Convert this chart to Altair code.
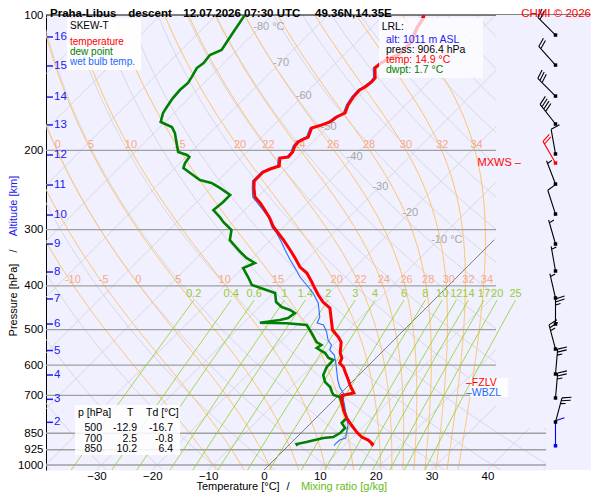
import numpy as np
import pandas as pd
import altair as alt

FONT = "Liberation Sans"
BG = "#f0f0ff"
W, H = 500, 455                      # diagram area; wind strip sits to the right
P_TOP, P_BOT = 100.0, 1025.9
T_LEFT, T_RIGHT = -39.03, 50.49
SKEW = 450 / 5.585                   # 45 deg isotherms: degC shift per pressure decade
RD, CP, LV, EPS = 287.04, 1005.7, 2.501e6, 0.622

# ===== sounding (descent) =====
temp_p = [100, 102.1, 106.3, 109.1, 114.8, 117.8, 122.7, 124.6, 127.8, 131.2, 138.0, 140.9, 144.5,
          146.8, 152.2, 158.5, 165.1, 168.5, 172.9, 175.5, 178.3, 186.7, 188.6, 191.5, 195.5, 201.6,
          206.8, 207.9, 216.6, 219.9, 223.3, 229.1, 233.8, 242.3, 253.8, 261.6, 271.3, 282.6, 295.9,
          305.1, 316.2, 332.9, 346.7, 363.1, 374.4, 392.1, 404.4, 419.1, 434.4, 447.9, 469.0, 501.2,
          519.4, 533.0, 563.9, 578.5, 593.5, 605.8, 621.5, 647.5, 664.3, 691.8, 700.8, 717.1, 754.7,
          786.3, 815.0, 844.8, 866.7, 880.2, 898.4, 906.4]
temp_t = [-52.8, -52.3, -51.8, -51.3, -50.2, -50.2, -50.3, -51.2, -51.9, -52.1, -50.3, -50.2, -50.5,
          -50.9, -50.8, -50.3, -49.4, -50.2, -50.5, -51.4, -52.7, -51.7, -52.2, -52.6, -52.5, -51.8,
          -51.7, -53.0, -51.7, -52.8, -53.5, -53.5, -53.5, -52.3, -50.5, -48.5, -46.4, -44.1, -41.8,
          -39.9, -37.7, -34.7, -32.4, -29.9, -27.6, -25.1, -23.5, -21.6, -19.5, -17.2, -15.4, -12.8,
          -10.5, -9.1, -7.3, -6.1, -5.6, -4.2, -3.0, -1.0, 0.2, 2.3, 0.6, 1.4, 3.5,
          5.5, 7.6, 9.8, 11.6, 13.3, 14.8, 14.9]

dew_p = [100, 103.6, 109.1, 114.8, 119.6, 122.7, 127.8, 131.2, 137.3, 141.6, 146.8, 153.0, 160.1,
         165.1, 172.9, 177.4, 182.9, 192.5, 201.6, 204.7, 206.8, 213.3, 218.8, 224.4, 232.6, 236.2,
         242.3, 251.2, 260.3, 271.3, 281.2, 288.4, 300.4, 316.2, 329.5, 338.0, 346.7, 355.7, 365.0,
         382.2, 398.1, 408.5, 414.8, 434.4, 445.6, 452.4, 459.4, 471.3, 476.2, 482.9, 484.3, 488.6,
         509.0, 533.0, 541.2, 549.5, 563.9, 578.5, 584.4, 605.8, 631.0, 654.2, 671.2, 688.3, 699.0,
         706.2, 766.4, 786.3, 806.7, 827.6, 849.2, 866.7, 871.0, 889.2, 898.4, 906.4]
dew_t = [-84.9, -84.5, -83.9, -83.3, -82.8, -84.0, -83.7, -84.0, -83.3, -82.9, -83.1, -82.9, -82.4,
         -82.0, -80.8, -77.9, -76.3, -74.2, -72.3, -70.2, -69.4, -69.1, -68.5, -66.4, -63.4, -60.8,
         -58.4, -55.3, -55.3, -55.6, -53.2, -51.7, -48.8, -47.3, -44.6, -42.9, -41.1, -38.7, -39.9,
         -37.4, -35.3, -31.8, -29.7, -27.9, -26.0, -24.0, -22.6, -22.9, -24.0, -27.1, -22.2, -18.3,
         -16.0, -13.5, -12.1, -12.4, -10.0, -8.5, -7.3, -7.2, -6.4, -4.8, -3.0, -1.8, -1.0,
         0.5, 4.3, 5.5, 5.5, 7.0, 7.0, 6.5, 4.9, 2.6, 1.2, 1.7]

wetb_p = [100, 102.1, 106.3, 109.1, 114.8, 117.8, 122.7, 124.6, 127.8, 131.2, 138.0, 140.9, 144.5,
          146.8, 152.2, 158.5, 165.1, 168.5, 172.9, 175.5, 178.3, 186.7, 188.6, 191.5, 195.5, 201.6,
          206.8, 207.9, 216.6, 219.9, 223.3, 229.1, 233.8, 242.3, 253.8, 261.6,
          271.3, 281.2, 295.9, 305.1, 319.5, 332.9, 350.3, 365.0, 382.2, 398.1, 414.8, 436.5, 469.0,
          483.6, 488.6, 506.4, 527.6, 541.2, 555.3, 569.6, 590.4, 615.1, 647.5, 671.2, 691.8, 717.1,
          743.2, 782.3, 815.0, 844.8, 871.0, 880.2, 898.4, 906.4]
wetb_t = [-53.1, -52.6, -52.1, -51.6, -50.5, -50.5, -50.6, -51.5, -52.2, -52.4, -50.6, -50.5, -50.8,
          -51.2, -51.1, -50.6, -49.7, -50.5, -50.8, -51.7, -53.0, -52.0, -52.5, -52.9, -52.8, -52.1,
          -52.0, -53.3, -52.0, -53.1, -53.8, -53.8, -53.8, -52.6, -50.9, -49.0,
          -46.7, -44.5, -42.1, -40.2, -37.7, -35.6, -32.9, -30.6, -28.1, -25.5, -22.9, -20.2, -17.4,
          -16.8, -15.3, -13.5, -11.8, -10.3, -9.7, -8.0, -6.5, -4.9, -2.9, -1.3, 0.4, 1.7,
          3.2, 5.2, 7.0, 8.0, 8.9, 8.2, 8.1, 8.2]

# ===== axes / diagram lines =====
p_levels = [100, 200, 300, 400, 500, 600, 700, 850, 925, 1000]
temp_ticks = [-30, -20, -10, 0, 10, 20, 30, 40]
km_vals = [2, 3, 4, 5, 6, 7, 8, 9, 10, 11, 12, 13, 14, 15, 16]
km_p = [803.8, 714.5, 631.0, 556.7, 486.1, 427.6, 372.5, 322.8, 278.3, 238.7, 204.7, 175.5, 152.2, 129.8, 111.9]
isotherms = list(range(-120, 60, 10))
dry_thetas = list(range(-40, 210, 10))
theta_w = [-10, -5, 0, 5, 10, 15, 20, 22, 24, 26, 28, 30, 32, 34]
mix_labels = ["0.2", "0.4", "0.6", "1", "1.4", "2", "3", "4", "6", "8", "10", "12", "14", "17", "20", "25"]
iso_lab_t = [-80, -70, -60, -50, -40, -30, -20, -10]
iso_lab_p = [106.3, 127.8, 151.4, 177.4, 206.8, 241.1, 275.4, 316.2]
iso_lab_txt = ["-80 °C", "-70", "-60", "-50", "-40", "-30", "-20", "-10 °C"]

# ===== wind =====
barb_p = [110.8, 129.2, 151.4, 174.7, 203.6, 213.3, 237.5, 276.9, 322.8, 370.6, 425.5, 486.1,
          552.5, 627.8, 709.7, 802.6, 906.4]
barb_dir = [315, 318, 315, 322, 350, 330, 339, 342, 344, 350, 347, 0, 345, 5, 5, 15, 0]
barb_kt = [20, 20, 30, 40, 10, 20, 5, 10, 5, 5, 5, 25, 25, 25, 25, 25, 10]
barb_col = ["black"] * 5 + ["red"] + ["black"] * 10 + ["blue"]

# ===== table / info =====
tbl_p = [500, 700, 850]
tbl_t = [-12.9, 2.5, 10.2]
tbl_td = [-16.7, -0.8, 6.4]
mxws_p, fzlv_p, wbzl_p = 213.3, 657.5, 690.7


def skew(t, p):
    return np.asarray(t, float) + SKEW * np.log10(P_BOT / np.asarray(p, float))


XS = alt.Scale(domain=[T_LEFT, T_RIGHT], nice=False, zero=False)
YS = alt.Scale(type="log", domain=[P_TOP, P_BOT], reverse=True, nice=False)
X_AX = alt.Axis(values=temp_ticks, format="d", title=None, grid=False, ticks=False, domain=False,
                labelPadding=0, labelFont=FONT, labelFontSize=11.5, labelColor="black", labelOverlap=False)
Y_AX = alt.Axis(values=p_levels, format="d", title=None, grid=False, ticks=False, domain=True,
                domainColor="black", domainWidth=1, labelPadding=3, labelFont=FONT, labelFontSize=11.5,
                labelColor="black", labelOverlap=False)


def enc_x():
    return alt.X("xs:Q", scale=XS, axis=X_AX)


def enc_y():
    return alt.Y("p:Q", scale=YS, axis=Y_AX)


def sat_vp(tc):
    return 6.112 * np.exp(17.67 * tc / (tc + 243.5))


def pseudo_adiabat(tw):
    def slope(p, t):
        tc = t - 273.15
        e = sat_vp(tc)
        rs = EPS * e / (p - e)
        return (RD * t + LV * rs) / (p * (CP + LV * LV * rs * EPS / (RD * t * t)))

    def run(p_end, n):
        p, t = 1000.0, tw + 273.15
        h = (p_end - 1000.0) / n
        ps, ts = [p], [t]
        for _ in range(n):
            k1 = slope(p, t)
            k2 = slope(p + h / 2, t + h * k1 / 2)
            k3 = slope(p + h / 2, t + h * k2 / 2)
            k4 = slope(p + h, t + h * k3)
            t += h * (k1 + 2 * k2 + 2 * k3 + k4) / 6
            p += h
            ps.append(p)
            ts.append(t)
        return ps, ts

    pd_, td_ = run(P_BOT, 3)
    pu, tu = run(P_TOP, 180)
    return np.array(pd_[::-1] + pu[1:]), np.array(td_[::-1] + tu[1:]) - 273.15


def mix_td(w_gkg, p):
    w = w_gkg / 1000.0
    lg = np.log(w * p / (EPS + w) / 6.112)
    return 243.5 * lg / (17.67 - lg)


def family(prefix, keys, fn):
    parts = []
    for k in keys:
        ps, ts = fn(k)
        parts.append(pd.DataFrame({"id": f"{prefix}{k}", "p": ps, "t": ts, "i": np.arange(len(ps))}))
    df = pd.concat(parts, ignore_index=True)
    df["xs"] = skew(df.t, df.p)
    return df


p_full = np.geomspace(P_BOT, P_TOP, 40)
df_iso = family("i", isotherms, lambda t: (p_full, np.full(len(p_full), float(t))))
df_dry = family("d", dry_thetas, lambda th: (p_full, (th + 273.15) * (p_full / 1000) ** (RD / CP) - 273.15))
moist = {tw: pseudo_adiabat(tw) for tw in theta_w}
df_moist = family("m", theta_w, lambda tw: moist[tw])
p_mix = np.geomspace(P_BOT, 430, 12)
df_mix = family("w", mix_labels, lambda s: (p_mix, mix_td(float(s), p_mix)))
df_zero = family("z", [0], lambda t: (np.array([P_BOT, 316.2]), np.array([0.0, 0.0])))


def lines(df, color, width):
    return alt.Chart(df).mark_line(clip=True, color=color, strokeWidth=width).encode(
        x=enc_x(), y=enc_y(), detail="id:N", order="i:Q")


def profile(ps, ts, color, width):
    df = pd.DataFrame({"p": ps, "t": ts, "i": np.arange(len(ps))})
    df["xs"] = skew(df.t, df.p)
    return alt.Chart(df).mark_line(clip=True, color=color, strokeWidth=width).encode(
        x=enc_x(), y=enc_y(), order="i:Q")


def scaled_text(df, color, size=11, align="center", dx=0):
    df = df.copy()
    if "xs" not in df:
        df["xs"] = skew(df.t, df.p)
    return alt.Chart(df).mark_text(font=FONT, fontSize=size, color=color, align=align,
                                   baseline="middle", dx=dx).encode(x=enc_x(), y=enc_y(), text="lab:N")


one = pd.DataFrame({"k": [0]})


def box(x1, y1, x2, y2, color="white", opacity=1.0):
    return alt.Chart(one).mark_rect(color=color, opacity=opacity).encode(
        x=alt.value(x1), x2=alt.value(x2), y=alt.value(y1), y2=alt.value(y2))


def notes(rows, size=10.5, weight="normal", align="left", baseline="middle", angle=0):
    df = pd.DataFrame(rows, columns=["x", "y", "text", "color"])
    return alt.Chart(df).mark_text(font=FONT, fontSize=size, fontWeight=weight, align=align,
                                   baseline=baseline, angle=angle).encode(
        x=alt.X("x:Q", scale=None, axis=None), y=alt.Y("y:Q", scale=None, axis=None),
        text="text:N", color=alt.Color("color:N", scale=None))


# ===== labels on the diagram lines =====
def on_line(tw, p):
    ps, ts = moist[tw]
    return float(np.interp(np.log(p), np.log(ps[::-1]), ts[::-1]))


moist_lab = []
for tw in theta_w:
    moist_lab.append({"p": 388.6, "t": on_line(tw, 388.6), "lab": str(tw)})
    t2 = on_line(tw, 194.5)
    if skew(t2, 194.5) > T_LEFT + 1:
        moist_lab.append({"p": 194.5, "t": t2, "lab": str(tw)})
df_moist_lab = pd.DataFrame(moist_lab)
mix_top_t = [mix_td(float(s), 430.0) for s in mix_labels]
df_mix_lab = pd.DataFrame({"lab": mix_labels, "p": 416.9, "xs": skew(mix_top_t, 430.0)})
df_iso_lab = pd.DataFrame({"lab": iso_lab_txt, "p": iso_lab_p, "t": iso_lab_t})

# ===== pressure lines, km scale =====
upper = pd.DataFrame({"p": [p for p in p_levels if 100 < p < 800]})
lower = pd.DataFrame({"p": [p for p in p_levels if p >= 800]})
plines = [
    alt.Chart(upper).mark_rule(color="#a0a0a0", strokeWidth=1.3).encode(
        x=alt.value(0), x2=alt.value(450), y=enc_y()),
    alt.Chart(lower).mark_rule(color="#a0a0a0", strokeWidth=1.3).encode(
        x=alt.value(0), x2=alt.value(500), y=enc_y()),
    alt.Chart(one).mark_rule(color="black", strokeWidth=1.2).encode(
        x=alt.value(0), x2=alt.value(545), y=alt.value(0)),
]
km_df = pd.DataFrame({"km": [str(k) for k in km_vals], "p": km_p})
km_ticks = alt.Chart(km_df).mark_rule(color="#2020ee", strokeWidth=1.5).encode(
    x=alt.value(1), x2=alt.value(7), y=enc_y())
km_text = alt.Chart(km_df).mark_text(font=FONT, fontSize=11.5, color="#2020ee", align="left",
                                     baseline="middle").encode(x=alt.value(8), y=enc_y(), text="km:N")


# ===== wind barbs =====
def barb_path(kt, L=25):
    d = f"M0,0L0,{-L}"
    y = -L
    n10, n5 = int(kt // 10), int(kt % 10 >= 5)
    for _ in range(n10):
        d += f"M0,{y}L9,{y - 3}"
        y += 3
    if n5:
        if n10 == 0:
            y += 3
        d += f"M0,{y}L5,{y - 1.5}"
    return d


barbs = pd.DataFrame({"p": barb_p, "dir": barb_dir, "col": barb_col,
                      "path": [barb_path(k) for k in barb_kt]})
barb_lines = alt.Chart(barbs).mark_point(filled=False, strokeWidth=1.1, opacity=1).encode(
    x=alt.value(509.5), y=enc_y(), shape=alt.Shape("path:N", scale=None),
    angle=alt.Angle("dir:Q", scale=None), size=alt.value(4), color=alt.Color("col:N", scale=None))
barb_dots = alt.Chart(barbs).mark_square(size=12, opacity=1).encode(
    x=alt.value(509.5), y=enc_y(), color=alt.Color("col:N", scale=None))

# ===== level markers =====
mx = pd.DataFrame({"p": [mxws_p], "lab": ["MXWS –"]})
mx_text = alt.Chart(mx).mark_text(font=FONT, fontSize=11, baseline="middle", align="right",
                                  color="red").encode(x=alt.value(475), y=enc_y(), text="lab:N")
fz = pd.DataFrame({"p": [fzlv_p, wbzl_p], "lab": ["–FZLV", "–WBZL"], "col": ["red", "#2266ff"]})
fz_text = alt.Chart(fz).mark_text(font=FONT, fontSize=10.5, baseline="middle", align="left").encode(
    x=alt.value(420), y=enc_y(), text="lab:N", color=alt.Color("col:N", scale=None))

# ===== text blocks =====
title = notes([(4, 1.5, "Praha-Libus", "black"), (82.3, 1.5, "descent", "black"),
               (137.3, 1.5, "12.07.2026 07:30 UTC", "black"), (269, 1.5, "49.36N,14.35E", "black")],
              size=11.5, weight="bold", baseline="alphabetic")
chmi = notes([(545, 1.5, "CHMI © 2026", "red")], size=11.5, align="right", baseline="alphabetic")
legend = notes([(24, 11, "SKEW-T", "black"), (24, 27.3, "temperature", "red"),
                (24, 36.8, "dew point", "#008000"), (24, 46.6, "wet bulb temp.", "#2266ff")], size=10)
lrl = notes([(335.7, 11.7, "LRL:", "black"), (340, 25, "alt: 1011 m ASL", "#2020ee"),
             (340, 35, "press: 906.4 hPa", "black"), (340, 45, "temp: 14.9 °C", "red"),
             (340, 55, "dwpt: 1.7 °C", "#008000")])
rows = [(32, 398.3, "p [hPa]", "black"), (81, 398.3, "T", "black"), (100, 398.3, "Td [°C]", "black")]
tbl_head = notes(rows)
tbl_rows = []
for i, (pp, tt, td) in enumerate(zip(tbl_p, tbl_t, tbl_td)):
    yy = 413.3 + i * 10.4
    tbl_rows += [(56, yy, f"{pp}", "black"), (91, yy, f"{tt:.1f}", "black"), (127, yy, f"{td:.1f}", "black")]
tbl_body = notes(tbl_rows, align="right")
xtitle = notes([(192, 475, "Temperature [°C]", "black"), (242, 475, "/", "black"),
                (298, 475, "Mixing ratio [g/kg]", "#66bb22")], size=11, align="center", baseline="alphabetic")
ytitle = notes([(-32.5, 285, "Pressure [hPa]", "black"), (-32.5, 236, "/", "black"),
                (-32.5, 191, "Altitude [km]", "#2020ee")], size=11, align="center", angle=270)

chart = alt.layer(
    lines(df_iso, "#d2d2da", 0.8),
    lines(df_dry, "#d2d2da", 0.8),
    lines(df_moist, "#ffc46e", 1),
    *plines,
    lines(df_zero, "#666666", 0.8),
    scaled_text(df_moist_lab, "#f8a886", dx=3),
    scaled_text(df_iso_lab, "#a8a8a8", align="left", dx=-7),
    box(450, 0, 500, 413, BG),
    box(500, 0, 545, H, BG),
    lines(df_mix, "#8fd11f", 0.8),
    scaled_text(df_mix_lab, "#99cc33"),
    km_ticks, km_text,
    profile(dew_p, dew_t, "#008000", 2.6),
    profile(wetb_p, wetb_t, "#2a6cff", 1.1),
    profile(temp_p, temp_t, "#ff0000", 3),
    box(21, 3, 95, 55, "white", 0.9),
    box(333, 3, 437, 63, "white", 0.75),
    box(29, 390, 134, 440, "white", 0.85),
    box(424, 363, 462, 382, "white", 0.85),
    legend, lrl, tbl_head, tbl_body, mx_text, fz_text,
    barb_lines, barb_dots,
    title, chmi, xtitle, ytitle,
).properties(
    width=W, height=H,
    padding={"left": 38, "top": 7, "right": 46, "bottom": 22},
    autosize=alt.AutoSizeParams(type="none"),
).configure_view(fill=BG, stroke="transparent")

chart.save("out.html", embed_options={"renderer": "svg", "actions": False})
